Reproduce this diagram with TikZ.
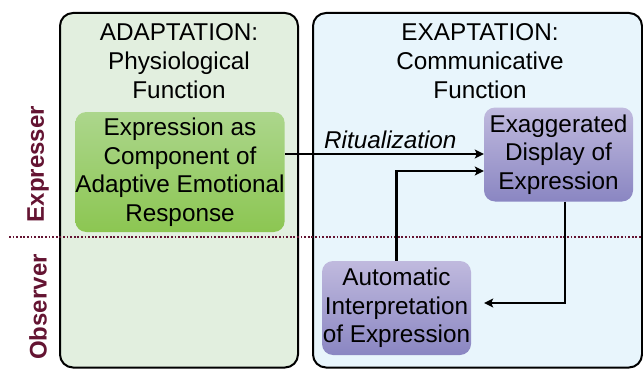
\documentclass[tikz,border=0pt]{standalone}
\usepackage{fontspec}
\setmainfont{Liberation Sans}
\usetikzlibrary{arrows.meta}
\definecolor{leftbg}{RGB}{226,239,223}
\definecolor{rightbg}{RGB}{232,245,252}
\definecolor{greentop}{RGB}{172,214,140}
\definecolor{greenbot}{RGB}{140,198,82}
\definecolor{purptop}{RGB}{192,186,222}
\definecolor{purpbot}{RGB}{138,134,194}
\definecolor{maroon}{RGB}{100,20,50}
\tikzset{
  panel/.style={draw=black, line width=2pt, rounded corners=13pt},
  hdr/.style={align=center, font=\fontsize{24.3}{29}\selectfont, inner sep=0pt},
  greenbox/.style={rounded corners=11pt, top color=greentop, bottom color=greenbot, align=center,
     font=\fontsize{24.3}{28.5}\selectfont, inner sep=0pt, minimum width=208pt, minimum height=120pt},
  purpbox/.style={rounded corners=11pt, top color=purptop, bottom color=purpbot, align=center,
     font=\fontsize{24.3}{28.5}\selectfont, inner sep=0pt, minimum width=149pt, minimum height=94pt},
  conn/.style={line width=2.6pt, -{Stealth[length=9pt,width=9pt,inset=2pt]}},
  rowlab/.style={rotate=90, font=\fontsize{24}{28}\selectfont\bfseries, text=maroon, inner sep=0pt},
}
\begin{document}
\begin{tikzpicture}[x=1pt,y=-1pt]
\useasboundingbox (0,0) rectangle (643,369);
% panels
\path[panel, fill=leftbg] (60,13) rectangle (298,367.5);
\path[panel, fill=rightbg] (313,13) rectangle (642,367.5);
% divider
\draw[maroon, line width=1.8pt, dash pattern=on 1.8pt off 1.8pt] (9,237) -- (643,237);
% row labels
\node[rowlab] (expresser) at (38,164) {Expresser};
\node[rowlab] (observer) at (38,307) {Observer};
% headers
\node[hdr] (adapt) at (179,61) {ADAPTATION:\\Physiological\\Function};
\node[hdr] (exapt) at (480,61) {EXAPTATION:\\Communicative\\Function};
% boxes
\node[greenbox] (comp) at (180,172) {Expression as\\Component of\\Adaptive Emotional\\Response};
\node[purpbox] (disp) at (558.5,154.5) {Exaggerated\\Display of\\Expression};
\node[purpbox] (auto) at (396.5,308) {Automatic\\Interpretation\\of Expression};
% connectors
\draw[conn] (comp.east |- 0,154) -- (disp.west |- 0,154)
  node[midway, above=1pt, font=\fontsize{24.3}{28}\selectfont\itshape, xshift=6pt] (rit) {Ritualization};
\draw[conn] (auto.north) |- (disp.west |- 0,171);
\coordinate (autoin) at ([xshift=13pt]auto.east |- 0,303);
\draw[conn] (disp.south -| 565,0) |- (autoin);
\end{tikzpicture}
\end{document}
